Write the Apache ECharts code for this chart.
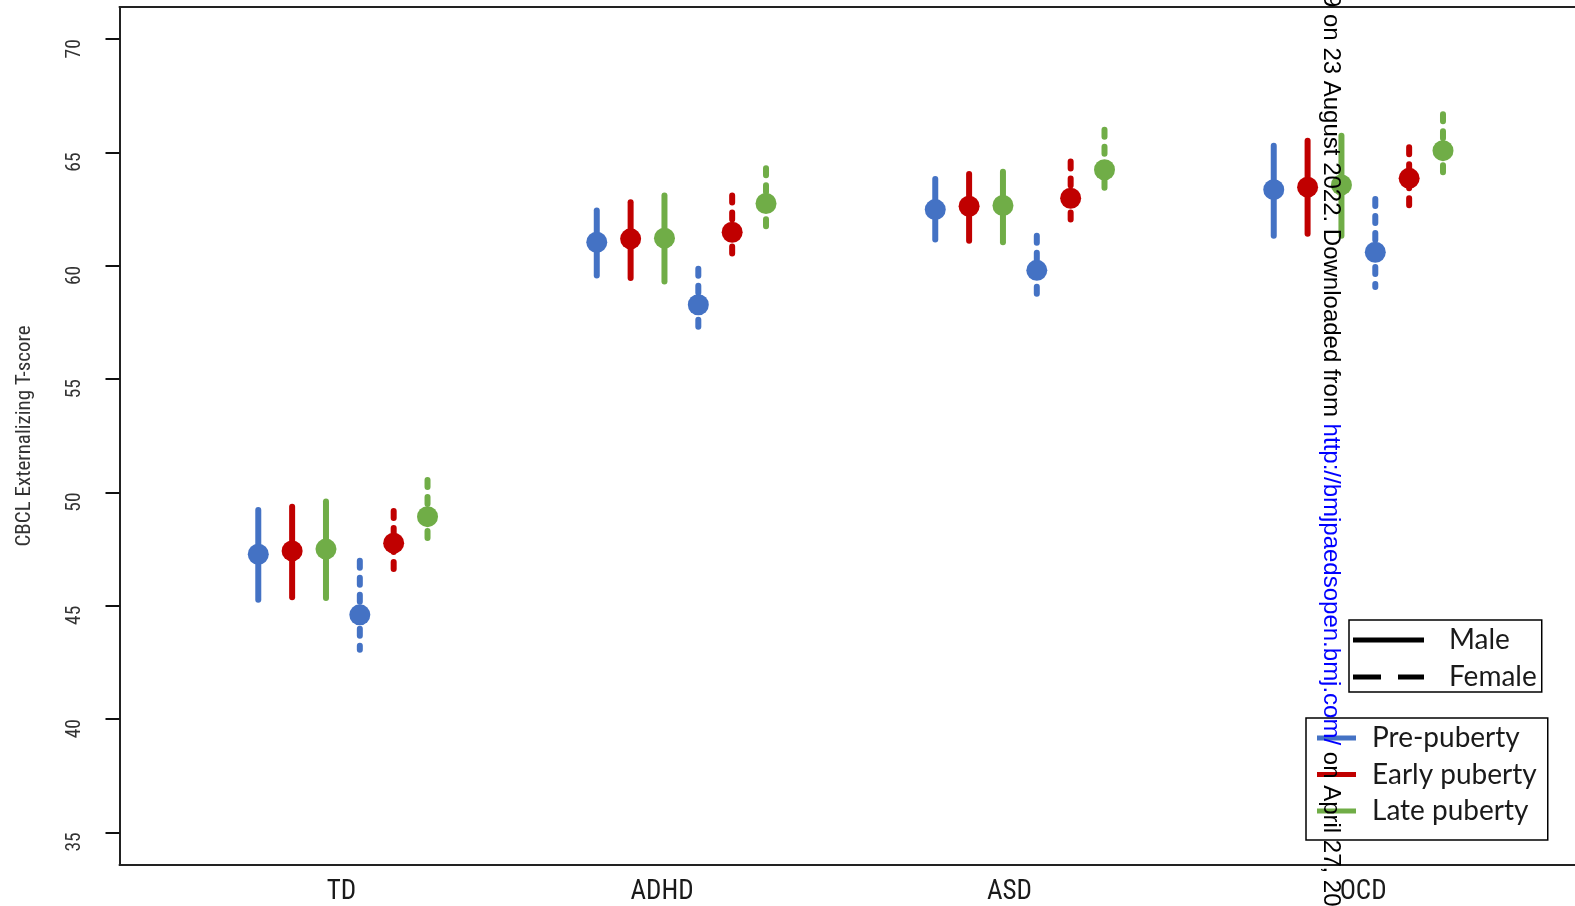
<!DOCTYPE html>
<html>
<head>
<meta charset="utf-8">
<script src="https://cdn.jsdelivr.net/npm/echarts@6/dist/echarts.min.js"></script>
<style>html,body{margin:0;padding:0;background:#fff;overflow:hidden;}#c{width:1575px;height:906px;}</style>
</head>
<body>
<div id="c"></div>
<script>
// ---- data ----
const categories = ['TD', 'ADHD', 'ASD', 'OCD'];
const xLabelPos = [3.46, 12.93, 23.19, 33.64];
const yTicks = [35, 40, 45, 50, 55, 60, 65, 70];
const groupBase = [1, 11, 21, 31];
const stageNames = ['Pre-puberty', 'Early puberty', 'Late puberty'];
const sexNames = ['Male', 'Female'];

const malePreMean   = [47.27, 61.04, 62.48, 63.36];
const malePreLow    = [45.26, 59.57, 61.16, 61.33];
const malePreHigh   = [49.22, 62.44, 63.83, 65.30];
const maleEarlyMean = [47.42, 61.19, 62.63, 63.47];
const maleEarlyLow  = [45.37, 59.46, 61.11, 61.41];
const maleEarlyHigh = [49.37, 62.80, 64.05, 65.52];
const maleLateMean  = [47.50, 61.22, 62.66, 63.57];
const maleLateLow   = [45.34, 59.31, 61.04, 61.33];
const maleLateHigh  = [49.60, 63.10, 64.15, 65.74];

const femalePreMean   = [44.60, 58.28, 59.80, 60.60];
const femalePreLow    = [43.06, 57.08, 58.55, 59.06];
const femalePreHigh   = [46.98, 59.87, 61.33, 62.95];
const femaleEarlyMean = [47.76, 61.48, 62.98, 63.86];
const femaleEarlyLow  = [46.36, 60.28, 61.77, 62.44];
const femaleEarlyHigh = [49.18, 63.10, 64.60, 65.23];
const femaleLateMean  = [48.93, 62.75, 64.24, 65.08];
const femaleLateLow   = [47.80, 61.50, 63.25, 63.90];
const femaleLateHigh  = [50.55, 64.30, 66.00, 66.69];

// ---- styles ----
const colors = ['#4472C4', '#C00000', '#70AD47'];
const narrow = "'Liberation Sans Narrow', 'Roboto Condensed', 'DejaVu Sans Condensed', 'Liberation Sans', sans-serif";
const frame = { show: true, onZero: false, lineStyle: { color: '#222', width: 2 } };

const groups = [
  { sex: 0, stage: 0, mean: malePreMean, low: malePreLow, high: malePreHigh },
  { sex: 0, stage: 1, mean: maleEarlyMean, low: maleEarlyLow, high: maleEarlyHigh },
  { sex: 0, stage: 2, mean: maleLateMean, low: maleLateLow, high: maleLateHigh },
  { sex: 1, stage: 0, mean: femalePreMean, low: femalePreLow, high: femalePreHigh },
  { sex: 1, stage: 1, mean: femaleEarlyMean, low: femaleEarlyLow, high: femaleEarlyHigh },
  { sex: 1, stage: 2, mean: femaleLateMean, low: femaleLateLow, high: femaleLateHigh }
];

function makeRender(color, dashed) {
  return function (params, api) {
    const x = api.value(0);
    const top = api.coord([x, api.value(3)]);
    const bot = api.coord([x, api.value(2)]);
    const c = api.coord([x, api.value(1)]);
    return {
      type: 'group',
      children: [
        { type: 'line', shape: { x1: top[0], y1: top[1], x2: bot[0], y2: bot[1] },
          style: { stroke: color, lineWidth: 6, lineCap: 'round', lineDash: dashed ? [7, 10] : null } },
        { type: 'circle', shape: { cx: c[0], cy: c[1], r: 10.5 }, style: { fill: color } }
      ]
    };
  };
}

const series = groups.map(g => {
  const offset = g.sex * 3 + g.stage;
  const color = colors[g.stage];
  return {
    name: stageNames[g.stage],
    type: 'custom',
    itemStyle: { color: color },
    renderItem: makeRender(color, g.sex === 1),
    encode: { x: 0, y: [1, 2, 3] },
    data: categories.map((cat, i) => [groupBase[i] + offset, g.mean[i], g.low[i], g.high[i]]),
    z: 3
  };
});
series.push({ name: 'Male', type: 'line', data: [], itemStyle: { color: '#000' } });
series.push({ name: 'Female', type: 'line', data: [], itemStyle: { color: '#000' } });

const legendText = { fontFamily: "Lato, 'Open Sans', sans-serif", fontSize: 28, lineHeight: 30, color: '#1a1a1a' };

const chart = echarts.init(document.getElementById('c'), null, { renderer: 'canvas' });
chart.setOption({
  animation: false,
  backgroundColor: '#fff',
  grid: { left: 119.5, right: 0, top: 7, bottom: 39 },
  xAxis: [
    {
      type: 'value', min: -3.1, max: 39.9, position: 'bottom',
      axisLine: frame, axisTick: { show: false }, splitLine: { show: false },
      axisLabel: {
        customValues: xLabelPos, margin: 14, fontFamily: narrow, fontSize: 27, color: '#1a1a1a',
        showMinLabel: true, showMaxLabel: true,
        formatter: function (v) {
          let best = 0, d = Infinity;
          xLabelPos.forEach((p, i) => { if (Math.abs(p - v) < d) { d = Math.abs(p - v); best = i; } });
          return categories[best];
        }
      }
    },
    {
      type: 'value', min: -3.1, max: 39.9, position: 'top',
      axisLine: frame, axisTick: { show: false }, splitLine: { show: false }, axisLabel: { show: false }
    }
  ],
  yAxis: [
    {
      type: 'value', min: 33.56, max: 71.42, position: 'left',
      name: 'CBCL Externalizing T-score', nameLocation: 'middle', nameGap: 84, nameRotate: 90,
      nameTextStyle: { fontFamily: narrow, fontSize: 21, color: '#333' },
      axisLine: frame, splitLine: { show: false },
      axisTick: { show: true, customValues: yTicks, length: 14, lineStyle: { color: '#111', width: 2 } },
      axisLabel: { customValues: yTicks, rotate: 90, margin: 34, align: 'right', fontFamily: narrow, fontSize: 19.5, color: '#333',
        showMinLabel: true, showMaxLabel: true }
    },
    {
      type: 'value', min: 33.56, max: 71.42, position: 'left', offset: 0,
      axisLine: { show: false, onZero: false }, splitLine: { show: false }, axisLabel: { show: false },
      axisTick: { show: true, customValues: yTicks, length: 14, lineStyle: { color: '#111', width: 2 } }
    }
  ],
  legend: [
    {
      orient: 'vertical', left: 1349, top: 620, selectedMode: false,
      padding: [5, 5, 0, 4], itemGap: 7, itemWidth: 71, itemHeight: 5,
      borderColor: '#000', borderWidth: 1.5, backgroundColor: '#fff',
      textStyle: Object.assign({ padding: [0, 0, 0, 20] }, legendText),
      data: [
        { name: 'Male', icon: 'path://M0,0H71V5H0Z', itemStyle: { color: '#000' } },
        { name: 'Female', icon: 'path://M0,0H28V5H0ZM45,0H71V5H45Z', itemStyle: { color: '#000' } }
      ]
    },
    {
      orient: 'vertical', left: 1306, top: 718, selectedMode: false,
      padding: [5, 11, 14, 11], itemGap: 6.5, itemWidth: 39, itemHeight: 5,
      borderColor: '#000', borderWidth: 1.5, backgroundColor: '#fff',
      textStyle: Object.assign({ padding: [0, 0, 0, 11] }, legendText),
      data: stageNames.map((n, i) => ({ name: n, icon: 'path://M0,0H39V5H0Z', itemStyle: { color: colors[i] } }))
    }
  ],
  graphic: [
    {
      type: 'text', x: 1331, y: -6, rotation: -Math.PI / 2, z: 100,
      style: {
        text: '{k|9 on 23 August 2022. Downloaded from }{b|http://bmjpaedsopen.bmj.com/}{k| on April 27, 2024 by guest. Protected by copyright.}',
        rich: {
          k: { fill: '#000', fontSize: 24, fontFamily: "'Liberation Sans', Arial, sans-serif" },
          b: { fill: '#0000FF', fontSize: 24, fontFamily: "'Liberation Sans', Arial, sans-serif" }
        },
        fontSize: 24, fontFamily: "'Liberation Sans', Arial, sans-serif",
        align: 'left', verticalAlign: 'middle'
      }
    }
  ],
  series: series
});
</script>
</body>
</html>
